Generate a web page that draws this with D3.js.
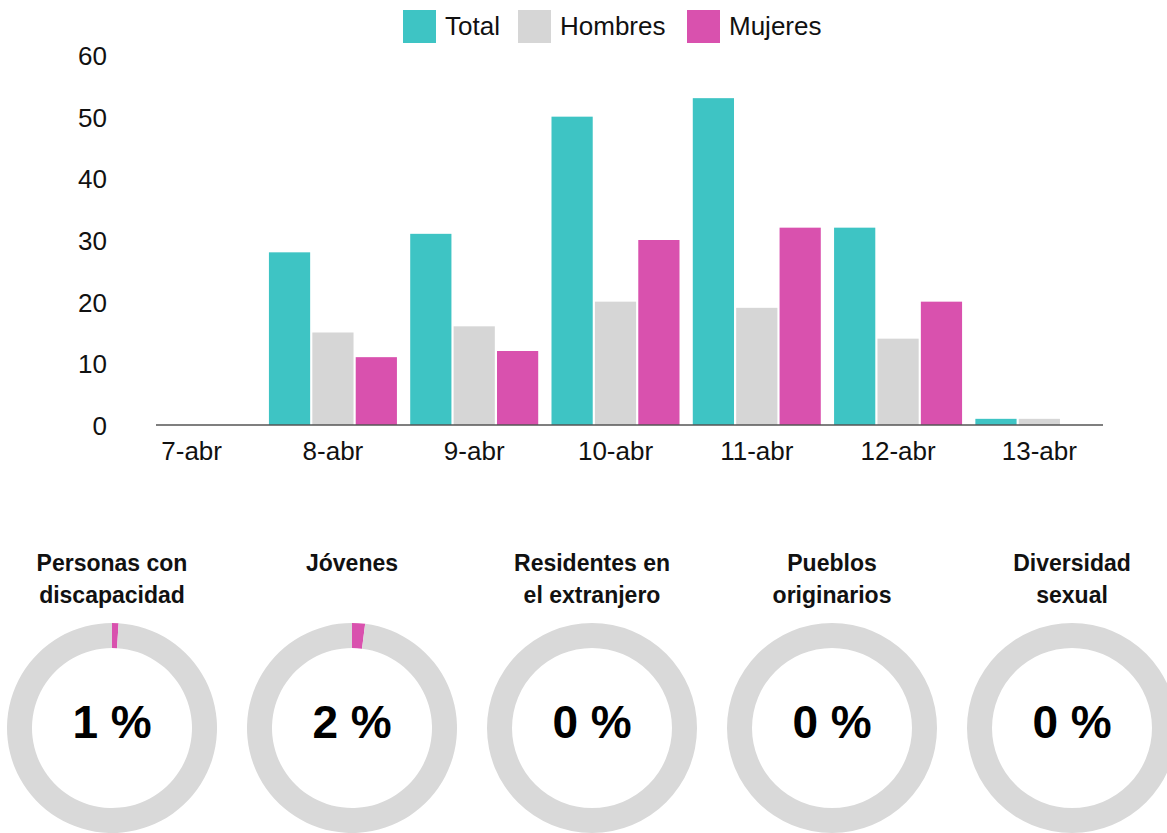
<!DOCTYPE html>
<html>
<head>
<meta charset="utf-8">
<script src="https://cdn.jsdelivr.net/npm/d3@7"></script>
<style>
	body { margin: 0; background: #fff; }
	svg { display: block; font-family: "Liberation Sans", Arial, sans-serif; }
</style>
</head>
<body>
<svg width="1167" height="833"></svg>
<script>
var dates = ['7-abr', '8-abr', '9-abr', '10-abr', '11-abr', '12-abr', '13-abr'];
var series = ['Total', 'Hombres', 'Mujeres'];
var colors = ['#3ec4c4', '#d6d6d6', '#d951ae'];
var total = [0, 28, 31, 50, 53, 32, 1];
var hombres = [0, 15, 16, 20, 19, 14, 1];
var mujeres = [0, 11, 12, 30, 32, 20, 0];
var yTicks = [0, 10, 20, 30, 40, 50, 60];

var groups = ['Personas con|discapacidad', 'Jóvenes', 'Residentes en|el extranjero', 'Pueblos|originarios', 'Diversidad|sexual'];
var percents = [1, 2, 0, 0, 0];

var svg = d3.select('svg');

// bar chart
var x0 = d3.scaleBand()
	.domain(dates)
	.range([121, 1110])
	.paddingInner(0.094)
	.paddingOuter(0.047);

var x1 = d3.scaleBand()
	.domain(series)
	.range([0, x0.bandwidth()])
	.paddingInner(0.05);

var y = d3.scaleLinear()
	.domain([0, 60])
	.range([425, 55]);

var color = d3.scaleOrdinal().domain(series).range(colors);

var rows = dates.map(function(d, i) {
	return {date: d, values: [total[i], hombres[i], mujeres[i]]};
});

var g = svg.append('g');

g.selectAll('g.day')
	.data(rows)
	.enter().append('g')
	.attr('class', 'day')
	.attr('transform', function(d) { return 'translate(' + x0(d.date) + ',0)'; })
	.selectAll('rect')
	.data(function(d) { return d.values.map(function(v, k) { return {key: series[k], value: v}; }); })
	.enter().append('rect')
	.filter(function(d) { return d.value > 0; })
	.attr('x', function(d) { return x1(d.key); })
	.attr('y', function(d) { return y(d.value); })
	.attr('width', x1.bandwidth())
	.attr('height', function(d) { return y(0) - y(d.value); })
	.attr('fill', function(d) { return color(d.key); });

// baseline
g.append('line')
	.attr('x1', 156)
	.attr('x2', 1103)
	.attr('y1', y(0))
	.attr('y2', y(0))
	.attr('stroke', '#555')
	.attr('stroke-width', 1.5);

// y labels
g.selectAll('text.ytick')
	.data(yTicks)
	.enter().append('text')
	.attr('class', 'ytick')
	.attr('x', 107)
	.attr('y', function(d) { return y(d) + 1; })
	.attr('text-anchor', 'end')
	.attr('dominant-baseline', 'central')
	.attr('font-size', 26)
	.attr('fill', '#111')
	.text(function(d) { return d; });

// x labels
g.selectAll('text.xtick')
	.data(dates)
	.enter().append('text')
	.attr('class', 'xtick')
	.attr('x', function(d) { return x0(d) + x0.bandwidth() / 2; })
	.attr('y', 451)
	.attr('text-anchor', 'middle')
	.attr('dominant-baseline', 'central')
	.attr('font-size', 26)
	.attr('fill', '#111')
	.text(function(d) { return d; });

// legend
var legendX = [403, 518, 687];
var legend = svg.selectAll('g.legend')
	.data(series)
	.enter().append('g')
	.attr('class', 'legend')
	.attr('transform', function(d, i) { return 'translate(' + legendX[i] + ',10)'; });
legend.append('rect')
	.attr('width', 33)
	.attr('height', 33)
	.attr('fill', function(d) { return color(d); });
legend.append('text')
	.attr('x', 42)
	.attr('y', 16)
	.attr('dominant-baseline', 'central')
	.attr('font-size', 26)
	.attr('fill', '#111')
	.text(function(d) { return d; });

// donuts
var outerR = 105, innerR = 80;
var arc = d3.arc().innerRadius(innerR).outerRadius(outerR);
var donut = svg.selectAll('g.donut')
	.data(groups)
	.enter().append('g')
	.attr('class', 'donut')
	.attr('transform', function(d, i) { return 'translate(' + (112 + i * 240) + ',0)'; });

donut.each(function(d, i) {
	var el = d3.select(this);
	var lines = d.split('|');
	el.selectAll('text.title')
		.data(lines)
		.enter().append('text')
		.attr('class', 'title')
		.attr('x', 0)
		.attr('y', function(l, j) { return 563 + j * 32; })
		.attr('text-anchor', 'middle')
		.attr('dominant-baseline', 'central')
		.attr('font-size', 23)
		.attr('font-weight', 'bold')
		.attr('fill', '#111')
		.text(function(l) { return l; });

	var c = el.append('g').attr('transform', 'translate(0,728)');
	var pie = d3.pie().sort(null)([percents[i], 100 - percents[i]]);
	c.selectAll('path')
		.data(pie)
		.enter().append('path')
		.attr('d', arc)
		.attr('fill', function(p, k) { return k === 0 ? colors[2] : '#d9d9d9'; });
	c.append('text')
		.attr('x', 0)
		.attr('y', -6)
		.attr('text-anchor', 'middle')
		.attr('dominant-baseline', 'central')
		.attr('font-size', 46)
		.attr('font-weight', 'bold')
		.attr('fill', '#000')
		.text(percents[i] + ' %');
});
</script>
</body>
</html>
